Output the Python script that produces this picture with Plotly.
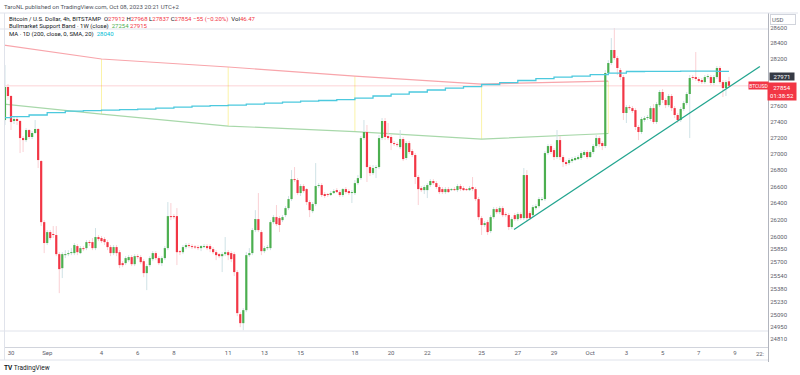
import plotly.graph_objects as go
import pandas as pd
import numpy as np

# ---------------- data (BTCUSD, 4h candles, Bitstamp) ----------------
first_candle = "2023-08-29 16:00"

opens = [
    27422, 27839, 27725, 27410, 27435, 27410, 27197, 27172, 27297, 27210,
    27260, 27310, 26913, 26172, 25923, 26053, 26029, 26018, 25792, 25627,
    25780, 25792, 25804, 25804, 25887, 25804, 25863, 25863, 25934, 25934,
    25863, 25994, 25982, 25970, 25934, 25875, 25804, 25875, 25815, 25686,
    25686, 25721, 25757, 25674, 25768, 25757, 25709, 25569, 25663, 25733,
    25804, 25745, 25686, 25745, 25863, 26244, 26244, 26244, 25827, 25815,
    25875, 25899, 25887, 25875, 25875, 25863, 25875, 25887, 25887, 25851,
    25815, 25792, 25768, 25792, 25815, 25804, 25792, 25581, 25094, 24991,
    25140, 25780, 25804, 26077, 26208, 26053, 25827, 25863, 25863, 26172,
    26232, 26220, 26196, 26256, 26340, 26449, 26692, 26680, 26522, 26607,
    26570, 26413, 26304, 26389, 26607, 26619, 26510, 26510, 26498, 26522,
    26558, 26534, 26498, 26570, 26546, 26522, 26522, 26643, 26704, 27197,
    27272, 26839, 26765, 26827, 26839, 27197, 27410, 27222, 27210, 27135,
    27122, 27085, 27185, 26950, 27135, 27036, 26987, 26717, 26582, 26558,
    26558, 26619, 26668, 26643, 26595, 26570, 26534, 26570, 26558, 26570,
    26558, 26607, 26582, 26570, 26558, 26595, 26570, 26449, 26220, 26137,
    26172, 26065, 26232, 26328, 26292, 26340, 26268, 26256, 26113, 26256,
    26208, 26268, 26220, 26741, 26280, 26256, 26340, 26364, 26437, 26449,
    27011, 27098, 27048, 26962, 27172, 26962, 26900, 26888, 26913, 26925,
    26937, 26950, 26987, 27024, 26962, 27024, 27098, 27197, 27135, 27098,
    28018, 28146, 28314, 28210, 28056, 27966, 27510, 27585, 27572, 27547,
    27335, 27272, 27422, 27447, 27435, 27572, 27397, 27610, 27776, 27674,
    27610, 27725, 27572, 27485, 27422, 27560, 27636, 27750, 27966, 27966,
    27941, 27928, 27902, 27966, 27966, 27890, 27966, 28082, 27902, 27826, 27912,
]
highs = [
    28120, 27877, 27738, 27460, 27472, 27422, 27222, 27322, 27310, 27285,
    27422, 27322, 26925, 26196, 26077, 26077, 26125, 26125, 25815, 25815,
    25839, 25839, 25863, 25923, 25911, 25887, 25887, 25958, 25958, 25982,
    26101, 26018, 26006, 25994, 25958, 25899, 25899, 25899, 25839, 25709,
    25768, 25780, 25780, 25792, 25792, 25780, 25733, 25674, 25768, 25827,
    25827, 25768, 25768, 25887, 26413, 26401, 26268, 26340, 25839, 25899,
    25923, 25923, 25911, 25899, 25899, 25899, 25911, 25911, 25911, 25875,
    25839, 25804, 25815, 25994, 25839, 25827, 25815, 25604, 25117, 25163,
    25815, 25863, 26101, 26316, 26522, 26077, 25887, 25899, 26196, 26256,
    26377, 26244, 26256, 26364, 26486, 26802, 26839, 26704, 26631, 26631,
    26582, 26437, 26413, 26888, 26643, 26643, 26534, 26522, 26546, 26570,
    26582, 26558, 26582, 26595, 26570, 26558, 26680, 26741, 27222, 27422,
    27360, 26863, 26863, 26863, 27235, 27447, 27447, 27385, 27235, 27160,
    27147, 27297, 27210, 27160, 27160, 27061, 27011, 26741, 26607, 26619,
    26643, 26692, 26692, 26668, 26619, 26595, 26595, 26595, 26582, 26595,
    26631, 26631, 26607, 26582, 26607, 26717, 26595, 26474, 26244, 26184,
    26196, 26256, 26352, 26352, 26364, 26364, 26292, 26280, 26232, 26280,
    26292, 26292, 26827, 26802, 26304, 26377, 26389, 26474, 26474, 27036,
    27122, 27122, 27073, 27297, 27222, 26987, 26925, 26950, 26962, 26974,
    26987, 27036, 27048, 27048, 27048, 27122, 27235, 27222, 27160, 28056,
    28184, 28469, 28600, 28236, 28082, 27992, 27610, 27610, 27598, 27572,
    27360, 27460, 27472, 27485, 27598, 27623, 27649, 27801, 27814, 27699,
    27750, 27750, 27598, 27510, 27585, 27661, 27776, 27992, 27992, 28288,
    27966, 27954, 27992, 28005, 27992, 27992, 28107, 28107, 27928, 27928, 27968,
]
lows = [
    27360, 27674, 27297, 27372, 27360, 27011, 27024, 27147, 27185, 27185,
    27247, 26827, 26125, 25804, 25899, 25958, 25982, 25768, 25336, 25511,
    25745, 25768, 25780, 25780, 25780, 25792, 25827, 25839, 25887, 25839,
    25839, 25946, 25923, 25899, 25839, 25768, 25780, 25768, 25627, 25639,
    25663, 25698, 25651, 25651, 25733, 25674, 25522, 25371, 25639, 25709,
    25721, 25663, 25651, 25721, 25839, 26196, 26208, 25663, 25780, 25792,
    25851, 25863, 25851, 25851, 25839, 25827, 25863, 25839, 25815, 25792,
    25721, 25745, 25581, 25768, 25721, 25698, 25534, 25071, 24945, 24911,
    25117, 25757, 25780, 26053, 26053, 25780, 25804, 25839, 25839, 26148,
    26125, 26053, 26172, 26232, 26316, 26425, 26656, 26498, 26486, 26522,
    26377, 26232, 26280, 26364, 26582, 26474, 26461, 26474, 26486, 26510,
    26522, 26474, 26474, 26510, 26498, 26401, 26498, 26619, 26680, 27172,
    26656, 26729, 26741, 26704, 26814, 27172, 27172, 27172, 27048, 27098,
    27085, 27061, 26913, 26925, 26999, 26962, 26631, 26377, 26534, 26510,
    26461, 26595, 26619, 26570, 26510, 26510, 26510, 26522, 26546, 26546,
    26534, 26546, 26546, 26546, 26546, 26546, 26425, 26196, 26018, 26113,
    26018, 26041, 26208, 26268, 26268, 26232, 26232, 26077, 26089, 26184,
    26184, 26196, 26196, 26172, 26196, 26232, 26316, 26340, 26425, 26425,
    26987, 26999, 26925, 26937, 26925, 26839, 26851, 26863, 26888, 26913,
    26925, 26925, 26962, 26937, 26950, 26999, 27073, 27085, 27048, 27073,
    27992, 28120, 28184, 27992, 27928, 27422, 27385, 27547, 27510, 27297,
    27172, 27247, 27397, 27422, 27410, 27372, 27372, 27585, 27636, 27572,
    27585, 27535, 27447, 27385, 27397, 27535, 27610, 27197, 27928, 27915,
    27890, 27877, 27877, 27941, 27864, 27864, 27941, 27877, 27712, 27725, 27837,
]
closes = [
    27839, 27725, 27397, 27435, 27410, 27197, 27172, 27297, 27210, 27260,
    27310, 26925, 26172, 25923, 26053, 25982, 26018, 25792, 25616, 25792,
    25792, 25804, 25815, 25899, 25815, 25863, 25851, 25934, 25923, 25863,
    25994, 25970, 25946, 25934, 25875, 25804, 25875, 25804, 25663, 25663,
    25745, 25757, 25674, 25768, 25757, 25698, 25569, 25651, 25745, 25804,
    25745, 25686, 25745, 25863, 26244, 26232, 26232, 25815, 25815, 25875,
    25899, 25887, 25875, 25870, 25863, 25887, 25887, 25863, 25851, 25815,
    25780, 25768, 25792, 25815, 25780, 25733, 25581, 25106, 24991, 25140,
    25780, 25804, 26077, 26208, 26077, 25827, 25863, 25875, 26172, 26232,
    26148, 26137, 26232, 26340, 26449, 26692, 26680, 26522, 26607, 26546,
    26413, 26316, 26389, 26607, 26619, 26498, 26486, 26498, 26522, 26546,
    26534, 26498, 26570, 26534, 26522, 26534, 26643, 26704, 27197, 27272,
    26839, 26765, 26827, 26839, 27197, 27410, 27210, 27197, 27135, 27122,
    27110, 27185, 26937, 27135, 27024, 26987, 26717, 26570, 26558, 26595,
    26619, 26668, 26643, 26595, 26534, 26534, 26570, 26534, 26570, 26558,
    26607, 26570, 26558, 26558, 26582, 26570, 26449, 26232, 26137, 26160,
    26053, 26232, 26328, 26292, 26340, 26256, 26256, 26113, 26208, 26208,
    26268, 26220, 26741, 26220, 26220, 26352, 26364, 26449, 26449, 27011,
    27098, 27024, 26962, 27172, 26962, 26900, 26876, 26925, 26937, 26950,
    26962, 27011, 27024, 26962, 27024, 27098, 27197, 27122, 27098, 28018,
    28146, 28314, 28210, 28082, 27966, 27510, 27585, 27572, 27535, 27335,
    27272, 27435, 27447, 27460, 27572, 27397, 27623, 27776, 27674, 27610,
    27725, 27572, 27485, 27422, 27560, 27636, 27750, 27954, 27954, 27941,
    27915, 27902, 27966, 27979, 27890, 27966, 28082, 27902, 27826, 27902, 27854,
]

# Bull market support band (1W): 20W SMA (green) and 21W EMA (red)
band_weeks = ["2023-08-28", "2023-09-04", "2023-09-11", "2023-09-18", "2023-09-25", "2023-10-02"]
band_sma20 = [27661, 27497, 27347, 27278, 27185, 27254]
band_ema21 = [28430, 28198, 28095, 27979, 27877, 27915]

# MA 1D (200, SMA) daily values, Aug 29 .. Oct 8
ma_days = pd.date_range("2023-08-29", "2023-10-08", freq="D")
ma200 = [
    27453, 27466, 27485, 27516, 27535, 27541, 27547, 27553, 27560, 27572,
    27585, 27598, 27604, 27610, 27623, 27636, 27648, 27661, 27668, 27680,
    27699, 27725, 27750, 27776, 27801, 27826, 27845, 27871, 27896, 27922,
    27947, 27966, 27979, 27998, 28017, 28037, 28039, 28040, 28043, 28043, 28040,
]

# user trend line (two anchor points)
trend_times = ["2023-09-26 19:00", "2023-10-10 09:00"]
trend_prices = [26083, 28101]

x_tick_dates = ["2023-08-30", "2023-09-01", "2023-09-04", "2023-09-06", "2023-09-08",
                "2023-09-11", "2023-09-13", "2023-09-15", "2023-09-18", "2023-09-20",
                "2023-09-22", "2023-09-25", "2023-09-27", "2023-09-29", "2023-10-01",
                "2023-10-03", "2023-10-05", "2023-10-07", "2023-10-09"]
x_tick_text = ["30", "Sep", "4", "6", "8", "11", "13", "15", "18", "20", "22",
               "25", "27", "29", "Oct", "3", "5", "7", "9"]
y_tick_vals = [28600, 28400, 28200, 27600, 27400, 27200, 27000, 26800, 26600, 26400,
               26200, 26000, 25850, 25700, 25540, 25380, 25230, 25090, 24950, 24810]

# ---------------- styling ----------------
GREEN = "#4caf50"
RED = "#f23645"
WICK_G = "#cfe2e6"
WICK_R = "#fad0d4"
CYAN = "#4cc9de"
TXT = "#131722"
AX = "#5d606b"
FONT = "Roboto, Arial, sans-serif"
FS = 6

n = len(closes)
times = pd.date_range(first_candle, periods=n, freq="4h")
o = np.array(opens, float); c = np.array(closes, float)
h = np.array(highs, float); l = np.array(lows, float)
up = c >= o

fig = go.Figure()

# band fill marks at weekly bars (thin vertical lines)
yx, yy = [], []
for d, a, b in zip(band_weeks, band_sma20, band_ema21):
    yx += [d, d, None]; yy += [a, b, None]
fig.add_trace(go.Scatter(x=yx, y=yy, mode="lines", line=dict(color="#fbf3a8", width=1),
                         hoverinfo="skip"))
fig.add_trace(go.Scatter(x=band_weeks, y=band_ema21, mode="lines",
                         line=dict(color="#f8a5ab", width=1.2), hoverinfo="skip"))
fig.add_trace(go.Scatter(x=band_weeks, y=band_sma20, mode="lines",
                         line=dict(color="#a8d8aa", width=1.2), hoverinfo="skip"))

# last price line
fig.add_trace(go.Scatter(x=["2023-08-29 12:00", "2023-10-11"], y=[closes[-1], closes[-1]],
                         mode="lines", line=dict(color="rgba(242,54,69,0.22)", width=1),
                         hoverinfo="skip"))

def seg(ts, a, b):
    xs, ys = [], []
    for t, lo, hi in zip(ts, a, b):
        s = t.strftime("%Y-%m-%d %H:%M")
        xs += [s, s, None]; ys += [lo, hi, None]
    return xs, ys

# wicks
for mask, col in ((up, WICK_G), (~up, WICK_R)):
    wx, wy = seg(times[mask], l[mask], h[mask])
    fig.add_trace(go.Scatter(x=wx, y=wy, mode="lines", line=dict(color=col, width=1),
                             hoverinfo="skip"))

# bodies (thick vertical segments, at least ~1 px tall)
for mask, col in ((up, GREEN), (~up, RED)):
    lo = np.minimum(o[mask], c[mask])
    hi = np.maximum(np.maximum(o[mask], c[mask]), lo + 12)
    bx, by = seg(times[mask], lo, hi)
    fig.add_trace(go.Scatter(x=bx, y=by, mode="lines", line=dict(color=col, width=2.2),
                             hoverinfo="skip"))

# MA 200 (daily resolution -> steps)
ma_x = [times[0]] + list(ma_days[1:]) + [times[-1]]
ma_y = [ma200[0]] + ma200[1:] + [ma200[-1]]
fig.add_trace(go.Scatter(x=ma_x, y=ma_y, mode="lines", line=dict(color=CYAN, width=1.3, shape="hv"),
                         hoverinfo="skip"))

# trend line
fig.add_trace(go.Scatter(x=trend_times, y=trend_prices, mode="lines",
                         line=dict(color="#22a58f", width=1.3), hoverinfo="skip"))

# ---------------- layout ----------------
L, R, T, B = 4, 32, 13, 28
PW, PH = 800 - L - R, 375 - T - B

def px(xp):
    return (xp - L) / PW

def py(yp):
    return (375 - B - yp) / PH

fig.update_layout(
    width=800, height=375, margin=dict(l=L, r=R, t=T, b=B),
    paper_bgcolor="white", plot_bgcolor="white", showlegend=False,
    font=dict(family=FONT, size=FS, color=AX),
    xaxis=dict(type="date", range=["2023-08-29 14:43", "2023-10-10 19:46"],
               tickvals=x_tick_dates, ticktext=x_tick_text, showgrid=False, zeroline=False,
               showline=True, linecolor="#d1d4dc", linewidth=1, ticks="",
               tickfont=dict(size=FS, color=AX, family=FONT), fixedrange=True),
    yaxis=dict(type="log", side="right",
               range=[np.log10(24720), np.log10(28797)],
               tickvals=y_tick_vals, ticktext=[str(v) for v in y_tick_vals],
               showgrid=False, zeroline=False, showline=True, linecolor="#b2b5be",
               linewidth=1, ticks="", tickfont=dict(size=FS, color=AX, family=FONT)),
)

line_col = "#e0e3eb"
shapes = [
    dict(type="line", xref="paper", yref="paper", x0=px(0), x1=px(798), y0=py(13), y1=py(13),
         line=dict(color=line_col, width=1)),
    dict(type="line", xref="paper", yref="paper", x0=px(0), x1=px(768), y0=py(29), y1=py(29),
         line=dict(color=line_col, width=1)),
    dict(type="line", xref="paper", yref="paper", x0=px(0), x1=px(768), y0=py(331), y1=py(331),
         line=dict(color=line_col, width=1)),
    dict(type="line", xref="paper", yref="paper", x0=px(0), x1=px(768), y0=py(360), y1=py(360),
         line=dict(color=line_col, width=1)),
    dict(type="line", xref="paper", yref="paper", x0=px(4.5), x1=px(4.5), y0=py(13), y1=py(360),
         line=dict(color=line_col, width=1)),
    dict(type="line", xref="paper", yref="paper", x0=px(768.5), x1=px(768.5), y0=py(347), y1=py(362),
         line=dict(color="#b2b5be", width=1)),
]
fig.update_layout(shapes=shapes)

def ann(text, x, y, size=FS, color=TXT, xanchor="left", **kw):
    fig.add_annotation(text=text, x=x, y=y, xref="paper", yref="paper", showarrow=False,
                       xanchor=xanchor, yanchor="middle", align="left",
                       font=dict(size=size, color=color, family=FONT), **kw)

def sp(t, col):
    return f"<span style='color:{col}'>{t}</span>"

ann("TaroNL published on TradingView.com, Oct 08, 2023 20:21 UTC+2", px(2), py(6.5), color="#50535e")
ann("Bitcoin / U.S. Dollar, 4h, BITSTAMP  O" + sp("27912", RED) + " H" + sp("27968", RED)
    + " L" + sp("27837", RED) + " C" + sp("27854", RED) + " " + sp("−55 (−0.20%)", RED)
    + "  Vol" + sp("46.47", RED), px(6.5), py(18.5))
ann("Bullmarket Support Band · 1W (close)  " + sp("27254", GREEN) + " " + sp("27915", RED),
    px(6.5), py(25.5))
ann("MA · 1D (200, close, 0, SMA, 20)  " + sp("28040", "#00bcd4"), px(6.5), py(34))

# right-hand price scale labels
ann("USD", px(782.5), py(19.5), color=AX, xanchor="center", bordercolor="#d1d4dc",
    borderwidth=1, borderpad=1, bgcolor="white", width=22)
fig.add_annotation(text="27971", x=px(781.5), y=np.log10(27971), xref="paper", yref="y",
                   showarrow=False, xanchor="center", yanchor="middle",
                   font=dict(size=FS, color="white", family=FONT), bgcolor="#363a45",
                   width=24, height=7, borderpad=0)
fig.add_annotation(text="27854<br>01:38:52", x=px(781.5), y=np.log10(closes[-1]), xref="paper",
                   yref="y", showarrow=False, xanchor="center", yanchor="top", yshift=4,
                   font=dict(size=FS, color="white", family=FONT), bgcolor=RED,
                   width=26, borderpad=1)
fig.add_annotation(text="BTCUSD", x=px(758), y=np.log10(closes[-1]), xref="paper", yref="y",
                   showarrow=False, xanchor="center", yanchor="middle",
                   font=dict(size=5, color="white", family=FONT), bgcolor=RED,
                   width=19, height=7, borderpad=0)
ann("22:", px(767), py(353.5), color=AX, xanchor="right")
ann("<b>TV</b> TradingView", px(2), py(368), size=6.5, color=TXT)

fig.write_html("out.html", config={"displayModeBar": False},
               post_script="document.body.style.margin='0';document.body.style.overflow='hidden';")
